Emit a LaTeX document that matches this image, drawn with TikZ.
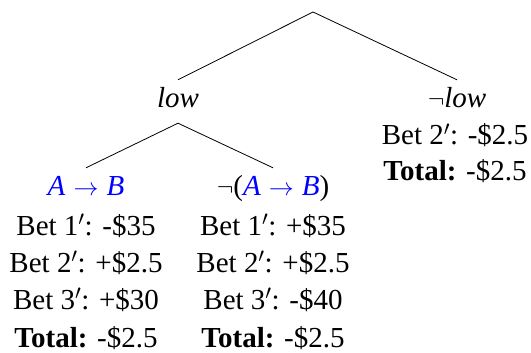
\documentclass[tikz,border=0pt]{standalone}
\usepackage{fontspec}
\setmainfont{Liberation Serif}
\begin{document}
\begin{tikzpicture}[x=1pt,y=-1pt,
  lbl/.style={anchor=base, font=\fontsize{29}{37}\selectfont, text height=19pt, text depth=6pt, inner xsep=0pt, inner ysep=9pt},
  edge/.style={draw=black, line width=0.8pt},
  prop/.style={text=blue}]
\useasboundingbox (0,0) rectangle (531,353);
\coordinate (root) at (313,12);
\node[lbl] (low) at (178,108) {\textit{low}};
\node[lbl] (nlow) at (457,108) {$\neg$\textit{low}};
\node[lbl] (nlowb2) at (455,145) {Bet 2$'$: -\$2.5};
\node[lbl] (nlowt) at (455,181) {\textbf{Total:} -\$2.5};
\node[lbl,prop] (ab) at (86,196) {\textit{A}\;$\rightarrow$\;\textit{B}};
\node[lbl] (ab1) at (86,235) {Bet 1$'$: -\$35};
\node[lbl] (ab2) at (86,272) {Bet 2$'$: +\$2.5};
\node[lbl] (ab3) at (86,309) {Bet 3$'$: +\$30};
\node[lbl] (abt) at (86,347) {\textbf{Total:} -\$2.5};
\node[lbl] (nab) at (273,196) {$\neg$({\color{blue}\textit{A}\;$\rightarrow$\;\textit{B}})};
\node[lbl] (nab1) at (273,235) {Bet 1$'$: +\$35};
\node[lbl] (nab2) at (273,272) {Bet 2$'$: +\$2.5};
\node[lbl] (nab3) at (273,309) {Bet 3$'$: -\$40};
\node[lbl] (nabt) at (273,347) {\textbf{Total:} -\$2.5};
\draw[edge] (low.north) -- (root) -- (nlow.north);
\draw[edge] (ab.north) -- (low.south) -- (nab.north);
\end{tikzpicture}
\end{document}
